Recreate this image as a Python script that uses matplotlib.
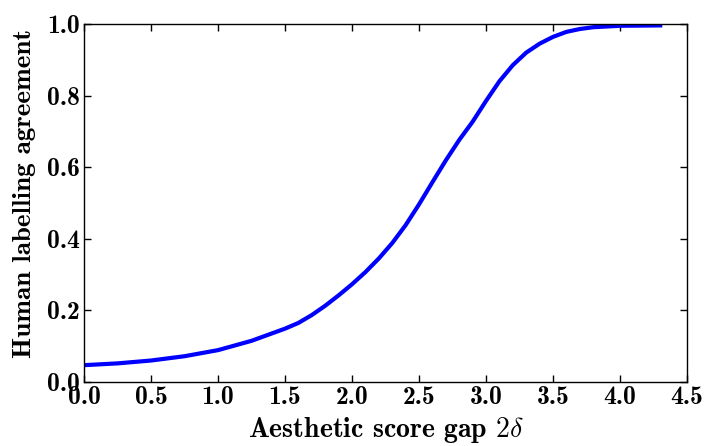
import matplotlib
matplotlib.use("Agg")
import matplotlib.pyplot as plt

plt.rcParams['mathtext.fontset'] = 'cm'
plt.rcParams['font.family'] = 'cmb10'
plt.rcParams['axes.unicode_minus'] = False

# values
gap = [0.0, 0.25, 0.5, 0.75, 1.0, 1.25, 1.5, 1.6, 1.7, 1.8, 1.9, 2.0,
       2.1, 2.2, 2.3, 2.4, 2.5, 2.6, 2.7, 2.8, 2.9, 3.0, 3.1, 3.2, 3.3,
       3.4, 3.5, 3.6, 3.7, 3.8, 3.9, 4.0, 4.3]
agreement = [0.047, 0.052, 0.06, 0.072, 0.089, 0.115, 0.149, 0.165, 0.187,
             0.213, 0.242, 0.273, 0.307, 0.345, 0.388, 0.438, 0.496, 0.558,
             0.619, 0.676, 0.727, 0.785, 0.84, 0.885, 0.92, 0.945, 0.964,
             0.978, 0.986, 0.991, 0.993, 0.995, 0.996]

xticks = [0.0, 0.5, 1.0, 1.5, 2.0, 2.5, 3.0, 3.5, 4.0, 4.5]
yticks = [0.0, 0.2, 0.4, 0.6, 0.8, 1.0]

fig = plt.figure(figsize=(7.05, 4.46), dpi=100)
ax = fig.add_axes([84 / 705, 1 - 382 / 446, 603 / 705, 358 / 446])

ax.plot(gap, agreement, color='#0000ff', lw=3)

ax.set_xlim(0, 4.5)
ax.set_ylim(0, 1.0)
ax.set_xticks(xticks)
ax.set_yticks(yticks)
ax.set_xticklabels(['%.1f' % v for v in xticks], fontsize=18.5)
ax.set_yticklabels(['%.1f' % v for v in yticks], fontsize=18.5)
ax.tick_params(direction='in', top=True, right=True, length=5, width=1, pad=3)

ax.set_xlabel(r'Aesthetic score gap $2\delta$', fontsize=20, labelpad=4)
ax.set_ylabel('Human labelling agreement', fontsize=19.5)
ax.yaxis.set_label_coords(-0.079, 0.527)

for s in ax.spines.values():
    s.set_linewidth(1.0)

fig.savefig('out.png', dpi=100)
